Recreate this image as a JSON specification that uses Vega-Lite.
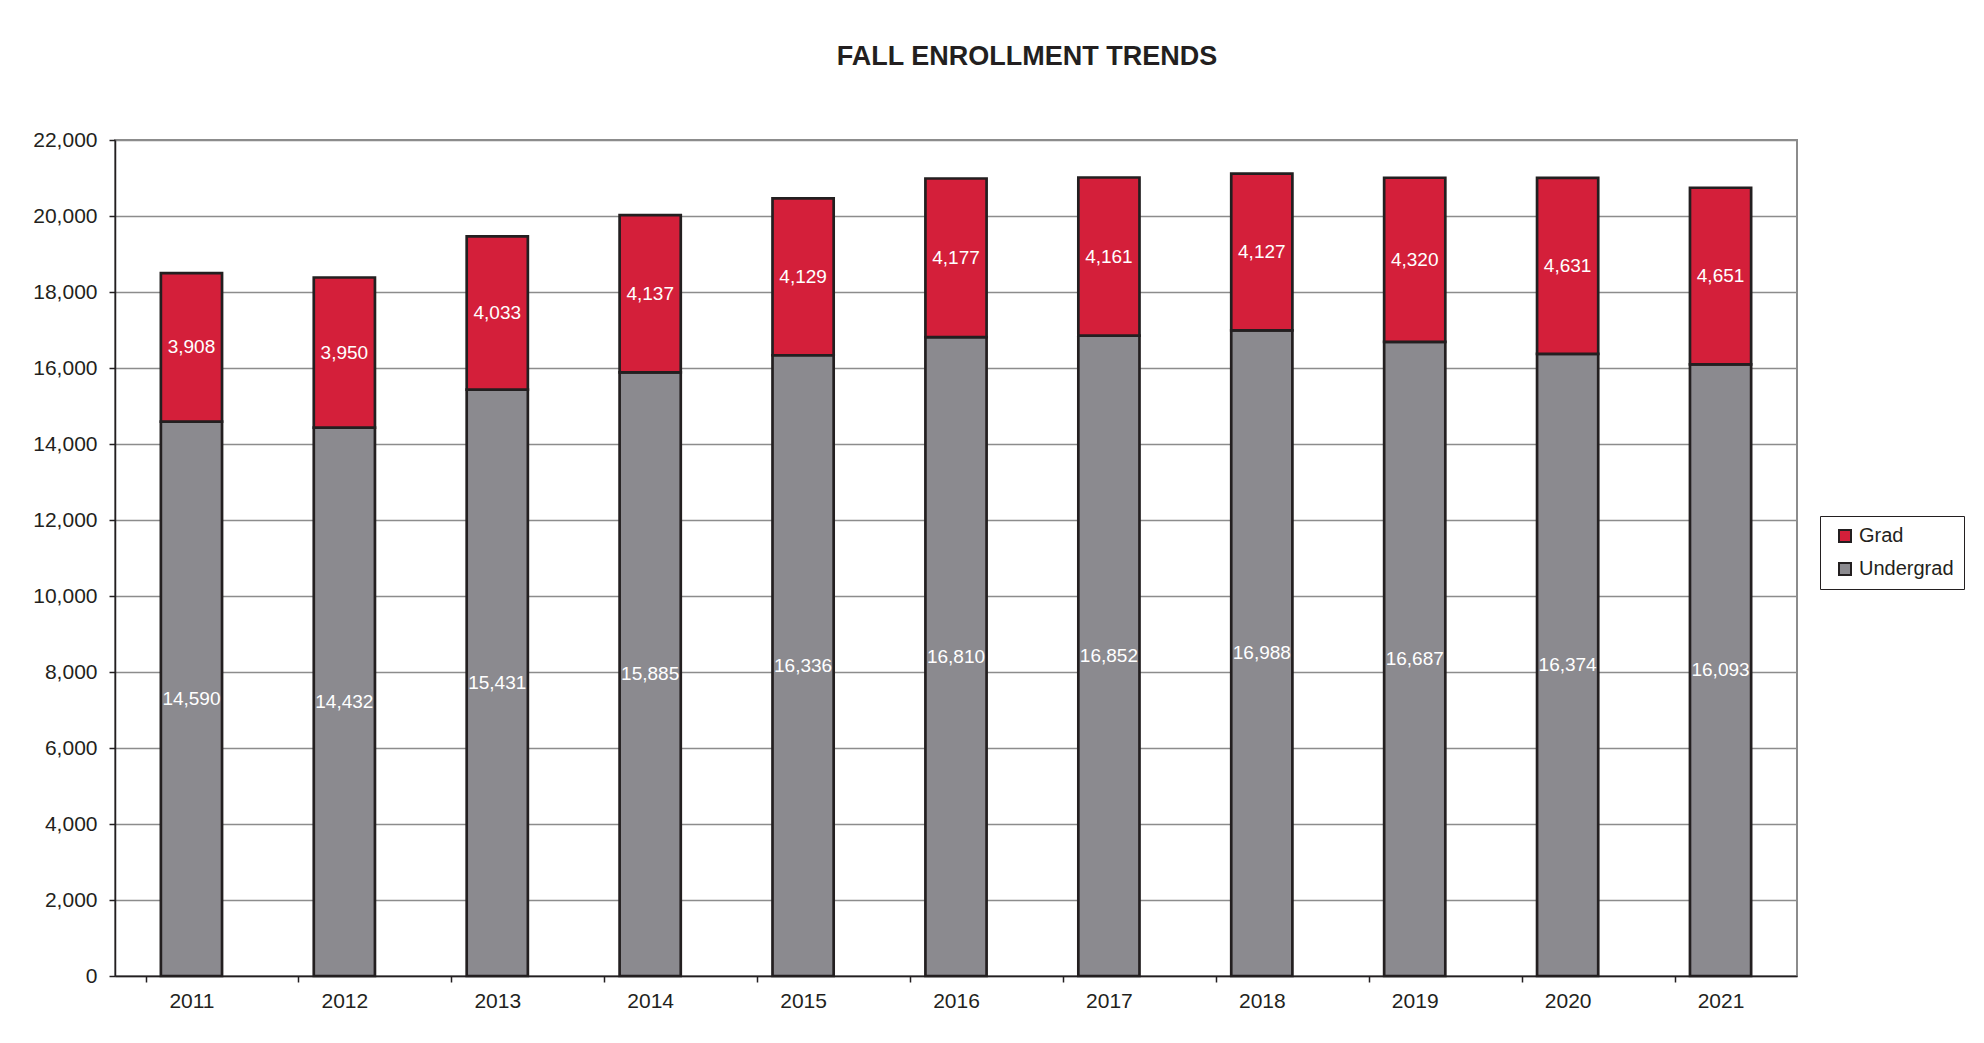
{
  "$schema": "https://vega.github.io/schema/vega-lite/v6.json",
  "width": 1682,
  "height": 836,
  "autosize": {"type": "none"},
  "padding": {"left": 115, "top": 140, "right": 187, "bottom": 67},
  "background": "white",
  "title": {
    "text": "FALL ENROLLMENT TRENDS",
    "fontSize": 27,
    "fontWeight": "bold",
    "font": "Liberation Sans",
    "color": "#231F20",
    "baseline": "alphabetic",
    "offset": 37,
    "dx": 71
  },
  "data": {
    "values": [
      {"year": "2011", "type": "Undergrad", "value": 14590},
      {"year": "2011", "type": "Grad", "value": 3908},
      {"year": "2012", "type": "Undergrad", "value": 14432},
      {"year": "2012", "type": "Grad", "value": 3950},
      {"year": "2013", "type": "Undergrad", "value": 15431},
      {"year": "2013", "type": "Grad", "value": 4033},
      {"year": "2014", "type": "Undergrad", "value": 15885},
      {"year": "2014", "type": "Grad", "value": 4137},
      {"year": "2015", "type": "Undergrad", "value": 16336},
      {"year": "2015", "type": "Grad", "value": 4129},
      {"year": "2016", "type": "Undergrad", "value": 16810},
      {"year": "2016", "type": "Grad", "value": 4177},
      {"year": "2017", "type": "Undergrad", "value": 16852},
      {"year": "2017", "type": "Grad", "value": 4161},
      {"year": "2018", "type": "Undergrad", "value": 16988},
      {"year": "2018", "type": "Grad", "value": 4127},
      {"year": "2019", "type": "Undergrad", "value": 16687},
      {"year": "2019", "type": "Grad", "value": 4320},
      {"year": "2020", "type": "Undergrad", "value": 16374},
      {"year": "2020", "type": "Grad", "value": 4631},
      {"year": "2021", "type": "Undergrad", "value": 16093},
      {"year": "2021", "type": "Grad", "value": 4651}
    ]
  },
  "transform": [
    {"stack": "value", "groupby": ["year"], "sort": [{"field": "type", "order": "descending"}], "as": ["v0", "v1"]}
  ],
  "encoding": {
    "x": {
      "field": "year",
      "type": "ordinal",
      "scale": {"paddingInner": 0.6, "paddingOuter": 0.3},
      "axis": {
        "title": null,
        "labelAngle": 0,
        "labelFontSize": 21,
        "labelColor": "#231F20",
        "labelPadding": 8,
        "tickOffset": -45.87,
        "labelOffset": 45.87,
        "tickSize": 6,
        "tickColor": "#231F20",
        "tickWidth": 1.5,
        "domainColor": "#231F20",
        "domainWidth": 1.5,
        "grid": false
      }
    }
  },
  "layer": [
    {
      "mark": {"type": "bar", "stroke": "#231F20", "strokeWidth": 2.7},
      "encoding": {
        "y": {
          "field": "v0",
          "type": "quantitative",
          "scale": {"domain": [0, 22000], "nice": false},
          "axis": {
            "title": null,
            "tickCount": 11,
            "labelExpr": "format(datum.value, ',')"
          }
        },
        "y2": {"field": "v1"},
        "color": {
          "field": "type",
          "type": "nominal",
          "scale": {"domain": ["Grad", "Undergrad"], "range": ["#D41F3A", "#8B8A8F"]},
          "legend": {
            "title": null,
            "orient": "none",
            "legendX": 1705,
            "legendY": 376,
            "strokeColor": "#231F20",
            "padding": 10,
            "symbolOffset": 5,
            "symbolType": "square",
            "symbolSize": 144,
            "symbolStrokeColor": "#231F20",
            "symbolStrokeWidth": 2,
            "labelFontSize": 20,
            "labelColor": "#231F20",
            "labelOffset": 4,
            "rowPadding": 13
          }
        }
      }
    },
    {
      "transform": [
        {"fold": ["v0", "v1"], "as": ["edge", "pos"]},
        {"aggregate": [{"op": "mean", "field": "pos", "as": "mid"}], "groupby": ["year", "type", "value"]}
      ],
      "mark": {"type": "text", "color": "white", "fontSize": 19, "baseline": "middle"},
      "encoding": {
        "y": {
          "field": "mid",
          "type": "quantitative",
          "axis": {
            "title": null,
            "tickCount": 11,
            "labelExpr": "format(datum.value, ',')"
          }
        },
        "text": {"field": "value", "type": "quantitative", "format": ","}
      }
    }
  ],
  "config": {
    "font": "Liberation Sans",
    "numberFormat": ",",
    "axisY": {
      "labelFontSize": 21,
      "labelColor": "#231F20",
      "labelPadding": 12,
      "tickSize": 6,
      "tickColor": "#231F20",
      "tickWidth": 1.5,
      "domainColor": "#231F20",
      "domainWidth": 1.5,
      "grid": true,
      "gridColor": "#8C8C8C",
      "gridWidth": 1.6
    },
    "view": {"stroke": "#8C8C8C", "strokeWidth": 2}
  }
}
